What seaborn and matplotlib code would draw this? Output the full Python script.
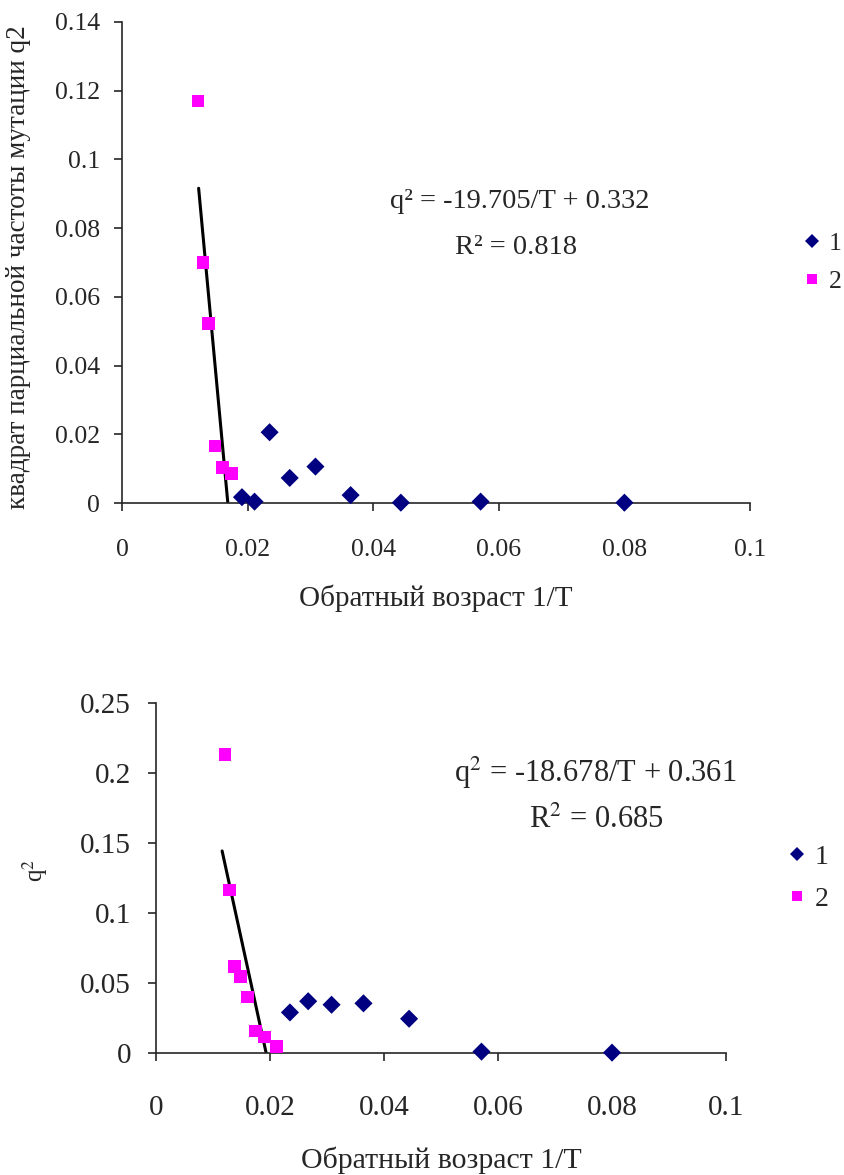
import numpy as np
import pandas as pd
import seaborn as sns
import matplotlib.pyplot as plt
from matplotlib.ticker import FuncFormatter

# --- данные, верхний график ---
top_x1 = [0.0191, 0.0211, 0.0235, 0.0267, 0.0308, 0.0364, 0.0444, 0.0571, 0.0800]
top_y1 = [0.0017, 0.0004, 0.0206, 0.0073, 0.0106, 0.0023, 0.0001, 0.0004, 0.0001]
top_x2 = [0.0121, 0.0129, 0.0138, 0.0148, 0.0160, 0.0174]
top_y2 = [0.117, 0.070, 0.0523, 0.0166, 0.0103, 0.0086]
top_trend = (-19.705, 0.332)          # наклон, свободный член
top_trend_x = [0.0122, 0.0174]

# --- данные, нижний график ---
bot_x1 = [0.0235, 0.0267, 0.0308, 0.0364, 0.0444, 0.0571, 0.0800]
bot_y1 = [0.029, 0.037, 0.0345, 0.0355, 0.0245, 0.0010, 0.0003]
bot_x2 = [0.0121, 0.0129, 0.0138, 0.0148, 0.0160, 0.0174, 0.0191, 0.0211]
bot_y2 = [0.213, 0.1165, 0.062, 0.0545, 0.040, 0.0157, 0.0114, 0.0045]
bot_trend = (-18.678, 0.361)
bot_trend_x = [0.0116, 0.0211]

series = ["1", "2"]

sns.set_style("ticks")
plt.rcParams['font.family'] = ['Liberation Serif', 'DejaVu Serif']
plt.rcParams['mathtext.fontset'] = 'stix'
plt.rcParams['axes.linewidth'] = 1.2


def make_df(x1, y1, x2, y2):
    return pd.DataFrame({
        'x': x1 + x2,
        'y': y1 + y2,
        'серия': [series[0]] * len(x1) + [series[1]] * len(x2),
    })


fmt = FuncFormatter(lambda v, p: f"{v:g}")
palette = {"1": "#000080", "2": "#FF00FF"}
markers = {"1": "D", "2": "s"}

fig = plt.figure(figsize=(8.45, 11.75), dpi=100)
ax1 = fig.add_axes([0.1444, 0.5719, 0.7432, 0.4094])
ax2 = fig.add_axes([0.1846, 0.1038, 0.6746, 0.2979])


def draw(ax, df, trend, trend_x, ymax, ystep, sizes, eq, r2, eq_pos, r2_pos,
         ylab, ylab_pos, xlab_y, xpad, ypad, leg_x):
    tick_fs, xlab_fs, eq_fs, ylab_fs, leg_fs = sizes
    sns.scatterplot(data=df, x='x', y='y', hue='серия', style='серия',
                    palette=palette, markers=markers, s=85, linewidth=0,
                    ax=ax, clip_on=False, zorder=3)
    tx = np.array(trend_x)
    ax.plot(tx, trend[0] * tx + trend[1], color='black', lw=2.2, zorder=2)
    ax.set_xlim(0, 0.1)
    ax.set_ylim(0, ymax)
    ax.set_xticks(np.arange(0, 0.1001, 0.02))
    ax.set_yticks(np.arange(0, ymax + 1e-9, ystep))
    ax.xaxis.set_major_formatter(fmt)
    ax.yaxis.set_major_formatter(fmt)
    ax.tick_params(axis='x', direction='out', length=6, width=1.2,
                   pad=xpad, labelsize=tick_fs)
    ax.tick_params(axis='y', direction='out', length=6, width=1.2,
                   pad=ypad, labelsize=tick_fs)
    sns.despine(ax=ax)
    ax.set_xlabel("Обратный возраст 1/T", fontsize=xlab_fs, va='center')
    ax.xaxis.set_label_coords(0.5, xlab_y)
    ax.set_ylabel(ylab, fontsize=ylab_fs, va='center')
    ax.yaxis.set_label_coords(*ylab_pos)
    ax.text(eq_pos[0], eq_pos[1], eq, transform=ax.transAxes,
            ha='center', va='center', fontsize=eq_fs)
    ax.text(r2_pos[0], r2_pos[1], r2, transform=ax.transAxes,
            ha='center', va='center', fontsize=eq_fs)
    sns.move_legend(ax, 'center left', bbox_to_anchor=(leg_x, 0.5),
                    title=None, frameon=False, fontsize=leg_fs,
                    handlelength=0.8, handletextpad=0.25,
                    labelspacing=0.6, borderpad=0, borderaxespad=0,
                    markerscale=0.8)


draw(ax1, make_df(top_x1, top_y1, top_x2, top_y2), top_trend, top_trend_x,
     0.14, 0.02, (18.5, 21, 20.5, 19.5, 18.5),
     "q² = -19.705/T + 0.332", "R² = 0.818",
     (0.633, 0.626), (0.628, 0.532),
     "квадрат парциальной частоты мутации q2", (-0.1656, 0.49),
     -0.1975, 20, 10, 1.082)

draw(ax2, make_df(bot_x1, bot_y1, bot_x2, bot_y2), bot_trend, bot_trend_x,
     0.25, 0.05, (21, 21.5, 22, 18, 20),
     "q$^{2}$ = -18.678/T + 0.361", "R$^{2}$ = 0.685",
     (0.770, 0.80), (0.772, 0.666),
     "q$^{2}$", (-0.212, 0.523),
     -0.306, 24, 12, 1.105)

fig.savefig("out.png", dpi=100)
